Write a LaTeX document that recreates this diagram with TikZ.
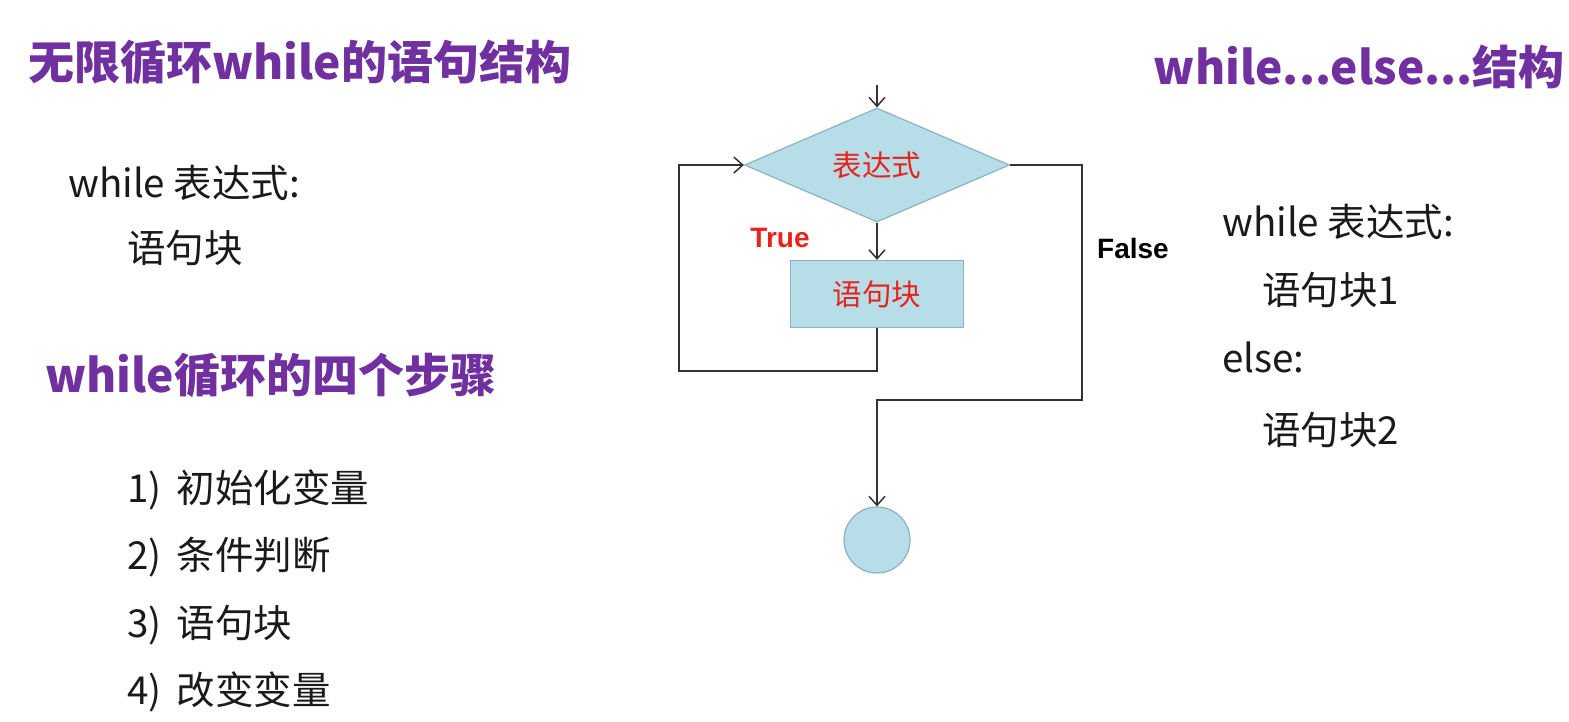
\documentclass[tikz,border=0pt]{standalone}
\usepackage{fontspec}
\setmainfont{Noto Sans CJK SC}
\newfontfamily\arial{Liberation Sans}
\usetikzlibrary{shapes.geometric,arrows.meta}
\definecolor{ttlpurple}{HTML}{7030A0}
\definecolor{boxblue}{HTML}{B7DDE8}
\definecolor{boxedge}{HTML}{8DB3C0}
\definecolor{flowred}{HTML}{E8231A}
\definecolor{txtdark}{HTML}{1A1A1A}
\definecolor{linegray}{HTML}{333333}
\tikzset{
  ttl/.style={anchor=west, inner sep=0, text=ttlpurple, font=\fontsize{46}{50}\selectfont\bfseries},
  body/.style={anchor=west, inner sep=0, text=txtdark, font=\fontsize{38.5}{42}\selectfont},
  dia/.style={diamond, draw=boxedge, fill=boxblue, line width=1.2pt, aspect=2.3, minimum width=265pt, minimum height=114pt, inner sep=0, text=flowred, font=\fontsize{29.5}{32}\selectfont},
  blk/.style={rectangle, draw=boxedge, fill=boxblue, line width=1.2pt, minimum width=173pt, minimum height=67pt, inner sep=0, text=flowred, font=\fontsize{29.5}{32}\selectfont},
  endpt/.style={circle, draw=boxedge, fill=boxblue, line width=1.2pt, minimum size=66pt, inner sep=0},
  flow/.style={draw=linegray, line width=1.5pt, -{Straight Barb[length=9pt,width=16pt]}},
  lbl/.style={inner sep=0, font=\arial\fontsize{28}{30}\selectfont\bfseries}
}
\begin{document}
\begin{tikzpicture}[x=1pt, y=-1pt]
\useasboundingbox[fill=white] (0,0) rectangle (1569,721);
% titles
\node[ttl] (t1) at (28,62) {无限循环while的语句结构};
\node[ttl] (t2) at (45,375) {while循环的四个步骤};
\node[ttl, anchor=east] (t3) at (1565,67) {while...else...结构};
% left syntax
\node[body] (w1) at (68,183) {while 表达式:};
\node[body] (w1b) at (127,248) {语句块};
\foreach \y/\n/\t in {490/1/初始化变量, 557/2/条件判断, 625/3/语句块, 692/4/改变变量} {\node[body] (s\n) at (127,\y) {\n)\, \t};}
% right syntax
\node[body] (w2) at (1222,222) {while 表达式:};
\node[body] (w2a) at (1262,290) {语句块1};
\node[body] (w2e) at (1222,357) {else:};
\node[body] (w2b) at (1262,430) {语句块2};
% flowchart
\node[dia] (expr) at (877,165) {表达式};
\node[blk] (blk) at (877,294) {语句块};
\node[endpt] (stop) at (877,540) {};
\node[lbl, text=flowred] (tru) at (780,238) {True};
\node[lbl, text=black] (fls) at (1133,248) {False};
\coordinate (entry) at (877,85);
\coordinate (lb) at (679,371);
\coordinate (rb) at (1082,400);
\draw[flow] (entry) -- (expr.north);
\draw[flow] (expr.south) -- (blk.north);
\draw[flow] (blk.south) |- (lb) |- (expr.west);
\draw[flow] (expr.east) -| (rb) -| (stop.north);
\end{tikzpicture}
\end{document}
